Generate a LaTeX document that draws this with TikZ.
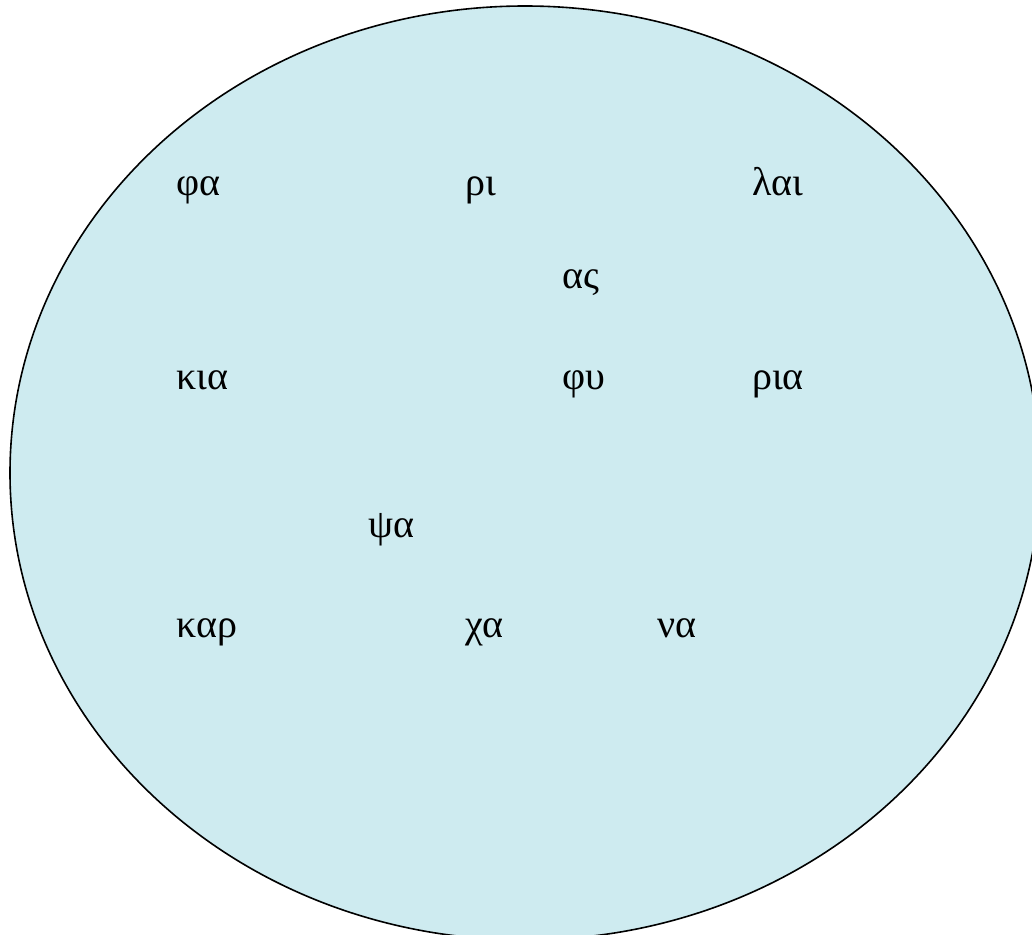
\documentclass[tikz,border=0pt]{standalone}
\usepackage{fontspec}
\setmainfont{Liberation Serif}
\usepackage{tikz}
\usetikzlibrary{positioning}

\definecolor{lakeblue}{RGB}{206,235,240}

\begin{document}
\begin{tikzpicture}[x=0.75pt,y=-0.75pt,every node/.style={font=\fontsize{30}{36}\selectfont}]
\tikzset{syll/.style={anchor=base west,inner sep=0pt}}
\useasboundingbox (0,0) rectangle (1032,935);
\clip (0,0) rectangle (1032,935);
\draw[line width=1.2pt,fill=lakeblue] (525,473) ellipse [x radius=515,y radius=467];
% top row
\node[syll] (fa) at (176,195) {φα};
\node[syll] (ri) at (465,195) {ρι};
\node[syll] (lai) at (752,195) {λαι};
\node[syll] (as) at (562,288) {ας};
% middle row
\node[syll] (kia) at (176,389) {κια};
\node[syll] (fy) at (562,389) {φυ};
\node[syll] (ria) at (752,389) {ρια};
\node[syll] (psa) at (368,537) {ψα};
% bottom row
\node[syll] (kar) at (176,637) {καρ};
\node[syll] (xa) at (465,637) {χα};
\node[syll] (na) at (657,637) {να};
\end{tikzpicture}
\end{document}
